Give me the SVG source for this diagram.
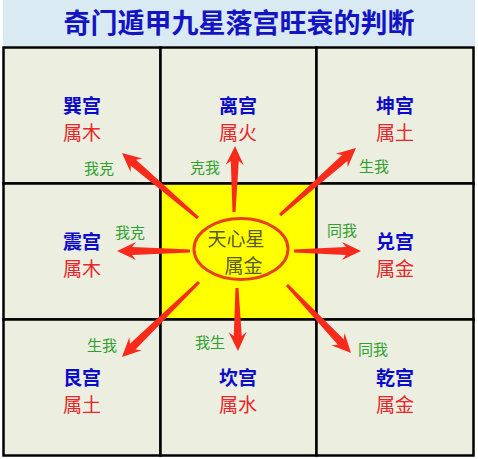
<svg xmlns="http://www.w3.org/2000/svg" width="478" height="459" viewBox="0 0 478 459">
<style>
.cell{fill:#eceee0;stroke:#000;stroke-width:2.5}
.t{font-family:"Noto Sans CJK SC","Noto Sans CJK JP",sans-serif;text-anchor:middle}
.gong{font-size:19px;font-weight:bold;fill:#0a0ac8}
.shu{font-size:19px;fill:#e8262a}
.rel{font-size:15px;fill:#2ea02e}
.arr{fill:#f72a1c}
</style>
<rect x="0" y="0" width="478" height="459" fill="#ffffff"/>
<rect x="3" y="0" width="472" height="46" fill="#d9eaf3"/>
<text class="t" x="239" y="33" font-size="27" font-weight="bold" fill="#1414c4">奇门遁甲九星落宫旺衰的判断</text>
<g id="grid">
<rect class="cell" x="3.5" y="47.5" width="157" height="136"/>
<rect class="cell" x="160.5" y="47.5" width="156" height="136"/>
<rect class="cell" x="316.5" y="47.5" width="157" height="136"/>
<rect class="cell" x="3.5" y="183.5" width="157" height="136"/>
<rect x="160.5" y="183.5" width="156" height="136" fill="#ffff00" stroke="#000" stroke-width="2.5"/>
<rect class="cell" x="316.5" y="183.5" width="157" height="136"/>
<rect class="cell" x="3.5" y="319.5" width="157" height="136"/>
<rect class="cell" x="160.5" y="319.5" width="156" height="136"/>
<rect class="cell" x="316.5" y="319.5" width="157" height="136"/>
</g>
<g id="xun"><text class="t gong" x="82" y="113">巽宫</text><text class="t shu" x="82" y="140">属木</text></g>
<g id="li"><text class="t gong" x="238" y="113">离宫</text><text class="t shu" x="238" y="140">属火</text></g>
<g id="kun"><text class="t gong" x="395" y="113">坤宫</text><text class="t shu" x="395" y="140">属土</text></g>
<g id="zhen"><text class="t gong" x="82" y="249">震宫</text><text class="t shu" x="82" y="276">属木</text></g>
<g id="dui"><text class="t gong" x="395" y="249">兑宫</text><text class="t shu" x="395" y="276">属金</text></g>
<g id="gen"><text class="t gong" x="82" y="385">艮宫</text><text class="t shu" x="82" y="412">属土</text></g>
<g id="kan"><text class="t gong" x="238" y="385">坎宫</text><text class="t shu" x="238" y="412">属水</text></g>
<g id="qian"><text class="t gong" x="395" y="385">乾宫</text><text class="t shu" x="395" y="412">属金</text></g>
<g id="center">
<ellipse cx="241" cy="249" rx="47" ry="30.5" fill="none" stroke="#e8401a" stroke-width="3"/>
<text class="t" x="236" y="246" font-size="19" fill="#5a5a1e">天心星</text>
<text class="t" x="243.5" y="273" font-size="19" fill="#5a5a1e">属金</text>
</g>
<g id="connectors">
<path class="arr" transform="translate(198,218) rotate(-139.46)" d="M0,-1.5 L85,-4 L81,-9 L100,0 L81,9 L85,4 L0,1.5Z"/>
<path class="arr" transform="translate(234,212) rotate(-89.1)" d="M0,-1.5 L51,-4 L47,-9 L66,0 L47,9 L51,4 L0,1.5Z"/>
<path class="arr" transform="translate(280,215) rotate(-41.4)" d="M0,-1.5 L86.3,-4 L82.3,-9 L101.3,0 L82.3,9 L86.3,4 L0,1.5Z"/>
<path class="arr" transform="translate(190,251) rotate(180)" d="M0,-1.5 L58,-4 L54,-9 L73,0 L54,9 L58,4 L0,1.5Z"/>
<path class="arr" transform="translate(294,251)" d="M0,-1.5 L52,-4 L48,-9 L67,0 L48,9 L52,4 L0,1.5Z"/>
<path class="arr" transform="translate(199,282) rotate(135.75)" d="M0,-1.5 L92.5,-4 L88.5,-9 L107.5,0 L88.5,9 L92.5,4 L0,1.5Z"/>
<path class="arr" transform="translate(237,288) rotate(89.1)" d="M0,-1.5 L48,-4 L44,-9 L63,0 L44,9 L48,4 L0,1.5Z"/>
<path class="arr" transform="translate(287,285) rotate(46.7)" d="M0,-1.5 L78.4,-4 L74.4,-9 L93.4,0 L74.4,9 L78.4,4 L0,1.5Z"/>
</g>
<g id="labels">
<text class="t rel" x="99" y="174">我克</text>
<text class="t rel" x="205" y="173">克我</text>
<text class="t rel" x="374" y="172">生我</text>
<text class="t rel" x="130" y="238">我克</text>
<text class="t rel" x="342" y="236">同我</text>
<text class="t rel" x="102" y="351">生我</text>
<text class="t rel" x="210" y="348">我生</text>
<text class="t rel" x="373" y="355">同我</text>
</g>
</svg>
